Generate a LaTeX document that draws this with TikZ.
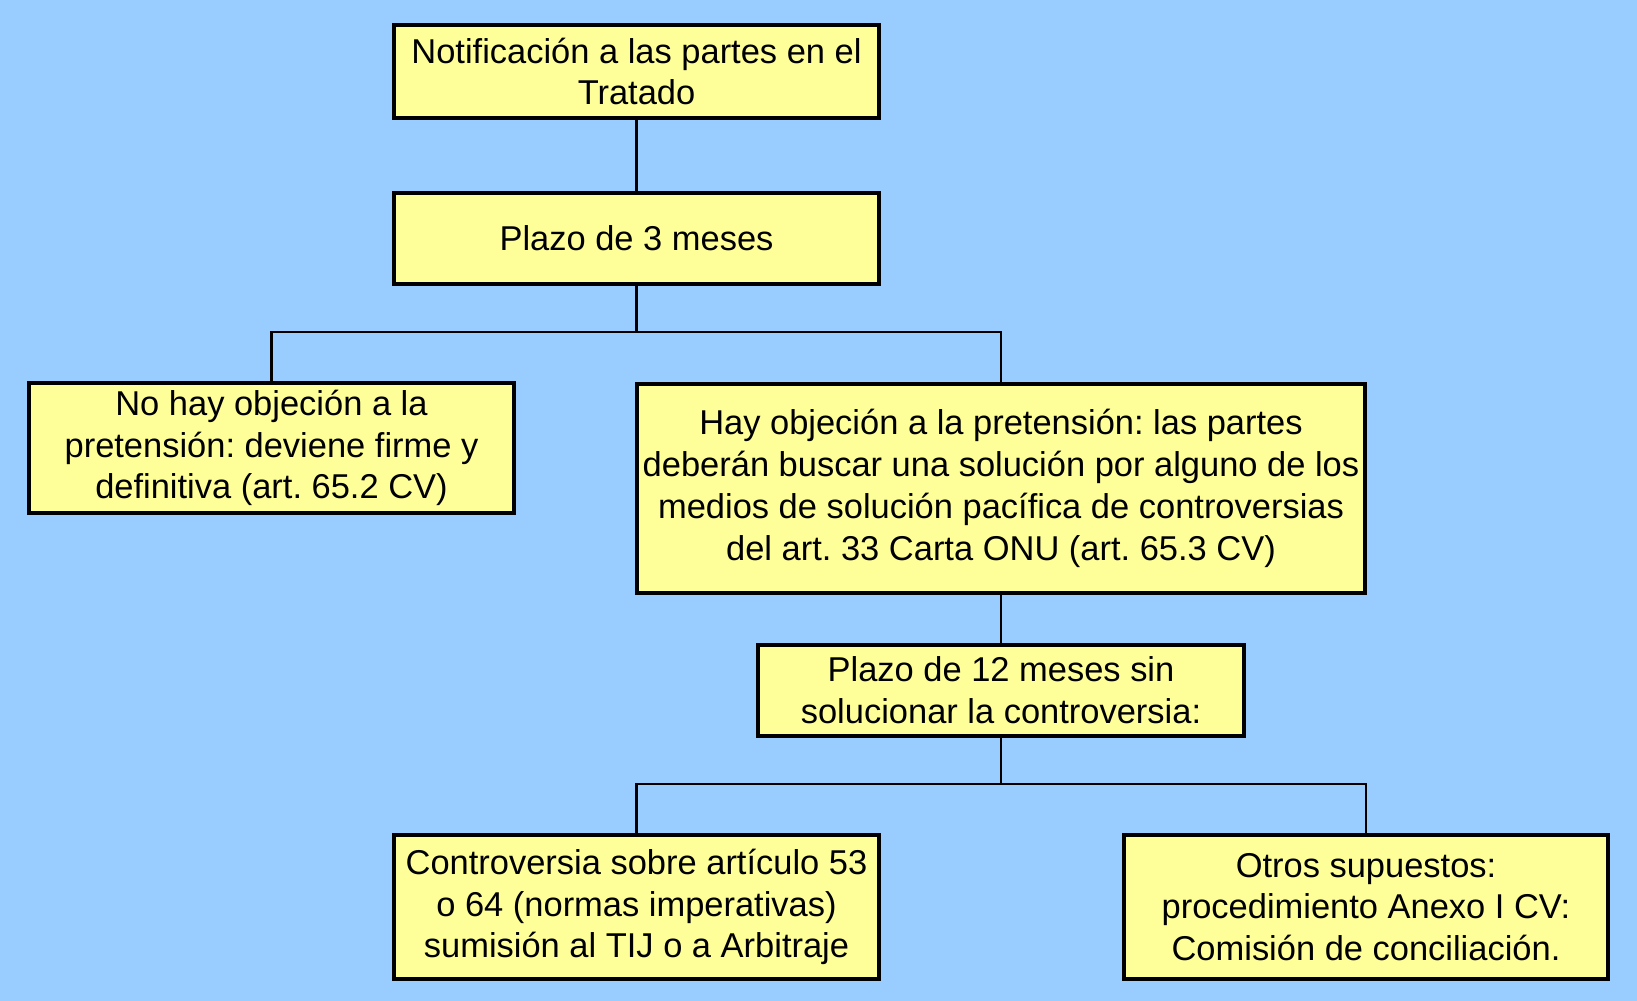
\documentclass[tikz,border=0pt]{standalone}
\usepackage{fontspec}
\setmainfont{Liberation Sans}
\usetikzlibrary{calc}
\frenchspacing

\definecolor{fondo}{HTML}{99CCFF}
\definecolor{caja}{HTML}{FFFF99}

\begin{document}
\begin{tikzpicture}[x=0.01cm, y=-0.01cm,
    paso/.style={draw, line width=1.1pt, fill=caja, align=center, inner sep=0pt,
                 font=\fontsize{9.8}{11.9}\selectfont},
    rama/.style={line width=0.6pt}]
            % Background
            \fill[fondo] (0,0) rectangle (1637,1001);

            % Boxes
            \node[paso, minimum width=4.85cm, minimum height=0.93cm] (notif) at (636.5,71.5)
                {Notificación a las partes en el\\Tratado};
            \node[paso, minimum width=4.85cm, minimum height=0.91cm] (plazo3) at (636.5,238.5)
                {Plazo de 3 meses};
            \node[paso, minimum width=4.85cm, minimum height=1.30cm] (noobj) at (271.5,448)
                {No hay objeción a la\\pretensión: deviene firme y\\definitiva (art. 65.2 CV)};
            \node[paso, minimum width=7.28cm, minimum height=2.09cm] (obj) at (1001,488.5)
                {Hay objeción a la pretensión: las partes\\deberán buscar una solución por alguno de los\\medios de solución pacífica de controversias\\del art. 33 Carta ONU (art. 65.3 CV)};
            \node[paso, minimum width=4.85cm, minimum height=0.91cm] (plazo12) at (1001,690.5)
                {Plazo de 12 meses sin\\solucionar la controversia:};
            \node[paso, minimum width=4.85cm, minimum height=1.44cm] (tij) at (636.5,907)
                {Controversia sobre artículo 53\\o 64 (normas imperativas)\\sumisión al TIJ o a Arbitraje};
            \node[paso, minimum width=4.84cm, minimum height=1.44cm] (otros) at (1366,907)
                {Otros supuestos:\\procedimiento Anexo I CV:\\Comisión de conciliación.};

            % Connectors
            \coordinate (j1) at (636.5,332);
            \coordinate (j2) at (1001,784);
            \draw[rama] (notif.south) -- (plazo3.north);
            \draw[rama] (plazo3.south) -- (j1);
            \draw[rama] (noobj.north) |- (j1) -| (obj.north);
            \draw[rama] (obj.south) -- (plazo12.north);
            \draw[rama] (plazo12.south) -- (j2);
            \draw[rama] (tij.north) |- (j2) -| (otros.north);
\end{tikzpicture}
\end{document}
